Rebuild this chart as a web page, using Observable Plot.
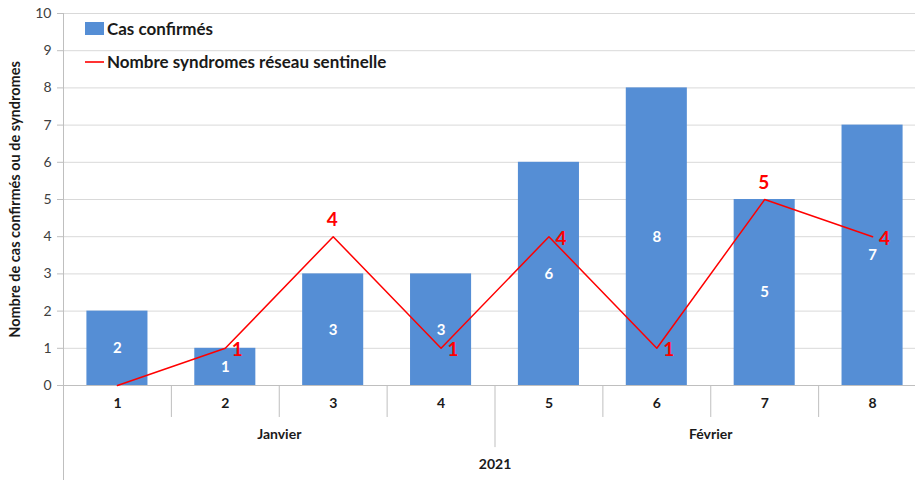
<!DOCTYPE html>
<html><head><meta charset="utf-8">
<script src="https://cdn.jsdelivr.net/npm/d3@7"></script>
<script src="https://cdn.jsdelivr.net/npm/@observablehq/plot@0.6"></script>
<style>
body{margin:0;background:#fff;}
#wrap{position:relative;width:915px;height:480px;overflow:hidden}
.legend{position:absolute;left:85px;top:12px;font:bold 17px Lato,sans-serif;color:#1a1a1a}
.legend .row{display:flex;align-items:center;height:33px}
.sw{width:19px;height:13px;background:#558ed5;margin-right:3px}
.ln{width:19px;height:2px;background:#ff3333;margin-right:3px}
</style></head>
<body><div id="wrap"></div>
<script>
const semaines = [1, 2, 3, 4, 5, 6, 7, 8];
const casConfirmes = [2, 1, 3, 3, 6, 8, 5, 7];
const syndromes = [0, 1, 4, 1, 4, 1, 5, 4];
const mois = ["Janvier", "Février"];
const moisCentre = [2.5, 6.5];
const annee = "2021";
const yTicks = [0, 1, 2, 3, 4, 5, 6, 7, 8, 9, 10];
const serieBarres = "Cas confirmés";
const serieLigne = "Nombre syndromes réseau sentinelle";
const titreY = "Nombre de cas confirmés ou de syndromes";

// label placement
const lineLabelPlace = ["none", "right", "top", "right", "right", "right", "top", "right"];

const data = semaines.map((s, i) => ({s, cas: casConfirmes[i], syn: syndromes[i], place: lineLabelPlace[i]}));
const half = 0.283;
const grey = "#bfbfbf";
const font = "Lato, sans-serif";

const chart = Plot.plot({
  width: 915, height: 480,
  marginLeft: 63, marginRight: -11, marginTop: 13, marginBottom: 95,
  style: {fontFamily: font, background: "#fff", overflow: "visible"},
  x: {domain: [0.5, 8.5], axis: null},
  y: {domain: [0, 10], axis: null},
  marks: [
    Plot.ruleY(yTicks.filter(d => d > 0), {stroke: "#d9d9d9", strokeWidth: 1}),
    Plot.rectY(data, {x1: d => d.s - half, x2: d => d.s + half, y: "cas", fill: "#558ed5"}),
    Plot.ruleY([0], {stroke: grey}),
    Plot.ruleX([0.5], {y1: 10, y2: -2.7, stroke: grey}),
    Plot.ruleX(semaines.slice(0, -1).map(s => s + 0.5).filter(d => d !== 4.5), {y1: 0, y2: -0.86, stroke: grey}),
    Plot.ruleX([4.5], {y1: 0, y2: -1.67, stroke: grey}),
    Plot.axisY({ticks: yTicks, tickSize: 6, tickPadding: 6, tickFormat: d3.format("d"), fontSize: 14, color: "#404040", stroke: grey, label: null}),
    Plot.text([titreY], {frameAnchor: "left", textAnchor: "middle", rotate: -90, dx: -48, fontSize: 14.5, fontWeight: "bold", fill: "#1a1a1a"}),
    Plot.text(data, {x: "s", text: d => String(d.s), frameAnchor: "bottom", dy: 22, fontSize: 14, fontWeight: "bold", fill: "#1a1a1a"}),
    Plot.text(mois, {x: (d, i) => moisCentre[i], text: d => d, frameAnchor: "bottom", dy: 53, fontSize: 14, fontWeight: "bold", fill: "#1a1a1a"}),
    Plot.text([annee], {x: 4.5, text: d => d, frameAnchor: "bottom", dy: 83, fontSize: 14, fontWeight: "bold", fill: "#1a1a1a"}),
    Plot.text(data, {x: "s", y: d => d.cas / 2, text: d => String(d.cas), fill: "white", fontSize: 15, fontWeight: "bold"}),
    Plot.lineY(data, {x: "s", y: "syn", stroke: "#ff0000", strokeWidth: 1.5}),
    Plot.text(data.filter(d => d.place === "right"), {x: "s", y: "syn", text: d => String(d.syn), dx: 12, dy: 2, fill: "#ff0000", fontSize: 19, fontWeight: "bold"}),
    Plot.text(data.filter(d => d.place === "top"), {x: "s", y: "syn", text: d => String(d.syn), dx: -1, dy: -17, fill: "#ff0000", fontSize: 19, fontWeight: "bold"})
  ]
});
const wrap = document.getElementById("wrap");
wrap.appendChild(chart);
const leg = document.createElement("div");
leg.className = "legend";
leg.innerHTML = `<div class="row"><div class="sw"></div>${serieBarres}</div><div class="row"><div class="ln"></div>${serieLigne}</div>`;
wrap.appendChild(leg);
</script></body></html>
